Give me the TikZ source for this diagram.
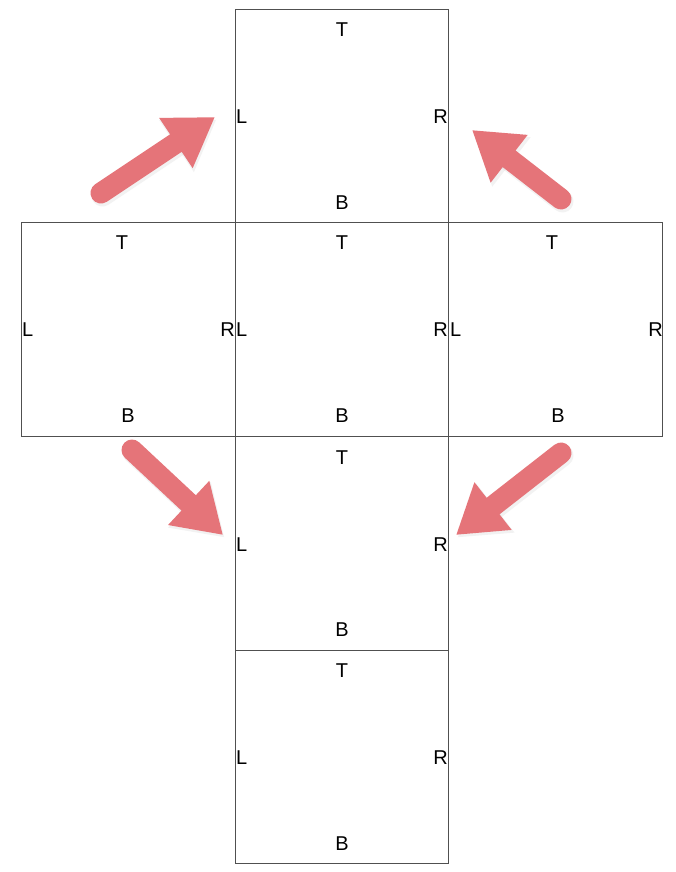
\documentclass[tikz,border=0pt]{standalone}
\usepackage{fontspec}
\setmainfont{Liberation Sans}
\usetikzlibrary{arrows.meta}
\definecolor{arrowcol}{RGB}{229,116,121}
\definecolor{boxline}{RGB}{80,80,80}
\begin{document}
\begin{tikzpicture}[x=1pt,y=-1pt,
  face/.style={draw=boxline,line width=0.8pt},
  lab/.style={inner sep=0pt,font=\fontsize{20}{23}\selectfont},
  bigarrow/.style={draw=arrowcol,line width=21pt,line cap=round,
    -{Triangle[width=57pt,length=47pt,fill=arrowcol]}},
  arrowshadow/.style={draw=black!20,opacity=0.25,line width=22pt,line cap=round,
    -{Triangle[width=59pt,length=48pt]}}]
\useasboundingbox (0,0) rectangle (676,872);
\fill[white] (0,0) rectangle (676,872);
% faces
\draw[face] (235,9) rectangle (448,222);
\draw[face] (21,222) rectangle (235,436);
\draw[face] (235,222) rectangle (448,436);
\draw[face] (448,222) rectangle (662,436);
\draw[face] (235,436) rectangle (448,650);
\draw[face] (235,650) rectangle (448,863);
% labels top face
\node[lab] (t1) at (342,30) {T};
\node[lab,anchor=west] (l1) at (236,117) {L};
\node[lab,anchor=east] (r1) at (448,117) {R};
\node[lab] (b1) at (342,203) {B};
% left face
\node[lab] (t2) at (122,243) {T};
\node[lab,anchor=west] (l2) at (22,330) {L};
\node[lab,anchor=east] (r2) at (235,330) {R};
\node[lab] (b2) at (128,416) {B};
% center face
\node[lab] (t3) at (342,243) {T};
\node[lab,anchor=west] (l3) at (236,330) {L};
\node[lab,anchor=east] (r3) at (448,330) {R};
\node[lab] (b3) at (342,416) {B};
% right face
\node[lab] (t4) at (552,243) {T};
\node[lab,anchor=west] (l4) at (450,330) {L};
\node[lab,anchor=east] (r4) at (663,330) {R};
\node[lab] (b4) at (558,416) {B};
% lower face
\node[lab] (t5) at (342,458) {T};
\node[lab,anchor=west] (l5) at (236,545) {L};
\node[lab,anchor=east] (r5) at (448,545) {R};
\node[lab] (b5) at (342,630) {B};
% bottom face
\node[lab] (t6) at (342,671) {T};
\node[lab,anchor=west] (l6) at (236,758) {L};
\node[lab,anchor=east] (r6) at (448,758) {R};
\node[lab] (b6) at (342,844) {B};
% arrows
\coordinate (a1s) at (101,193); \coordinate (a1e) at (215,117);
\coordinate (a2s) at (561,199); \coordinate (a2e) at (472,130);
\coordinate (a3s) at (132,450); \coordinate (a3e) at (223,535);
\coordinate (a4s) at (561,453); \coordinate (a4e) at (456,535);
\foreach \s/\e in {a1s/a1e,a2s/a2e,a3s/a3e,a4s/a4e}{
  \draw[arrowshadow,transform canvas={shift={(1.5pt,-2.5pt)}}] (\s) -- (\e);
}
\draw[bigarrow] (a1s) -- (a1e);
\draw[bigarrow] (a2s) -- (a2e);
\draw[bigarrow] (a3s) -- (a3e);
\draw[bigarrow] (a4s) -- (a4e);
\end{tikzpicture}
\end{document}
